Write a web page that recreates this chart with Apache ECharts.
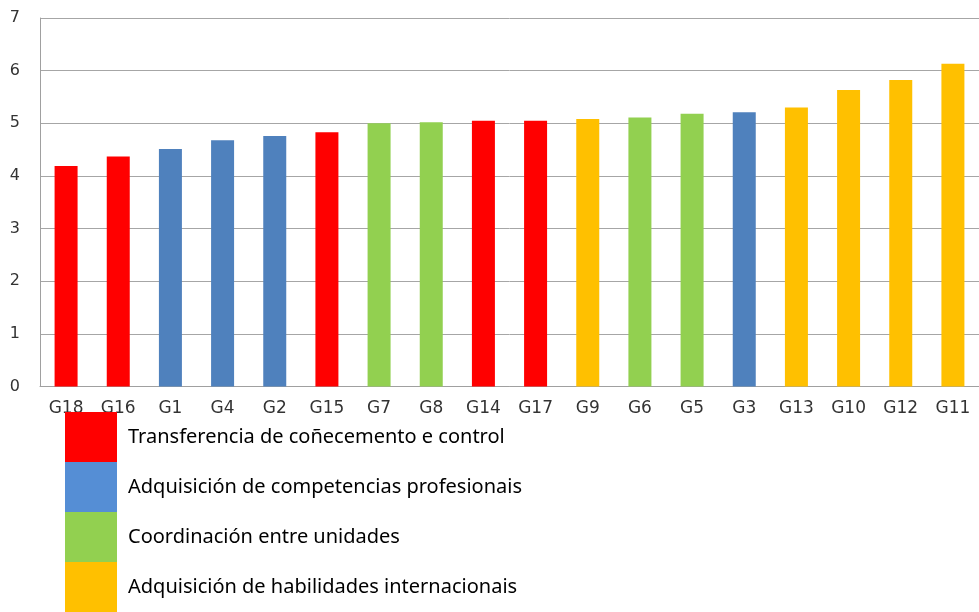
<!DOCTYPE html>
<html>
<head>
<meta charset="utf-8">
<script src="https://cdn.jsdelivr.net/npm/echarts@6/dist/echarts.min.js"></script>
<style>html,body{margin:0;padding:0;background:#fff;}#c{width:979px;height:612px;}</style>
</head>
<body>
<div id="c"></div>
<script>
var categories = ['G18','G16','G1','G4','G2','G15','G7','G8','G14','G17','G9','G6','G5','G3','G13','G10','G12','G11'];
var values = [4.19,4.37,4.51,4.68,4.76,4.83,5.00,5.02,5.05,5.05,5.08,5.11,5.18,5.21,5.30,5.63,5.82,6.13];
var groups = [0,0,1,1,1,0,2,2,0,0,3,2,2,1,3,3,3,3];
var groupNames = ['Transferencia de coñecemento e control','Adquisición de competencias profesionais','Coordinación entre unidades','Adquisición de habilidades internacionais'];
var groupColors = ['#FF0000','#4F81BD','#92D050','#FFC000'];
var legendColors = ['#FF0000','#558ED5','#92D050','#FFC000'];
var yTicks = [0,1,2,3,4,5,6,7];

var series = groupNames.map(function(name, g){
  return {
    name: name,
    type: 'bar',
    stack: 'all',
    barWidth: 23,
    itemStyle: {color: groupColors[g]},
    data: values.map(function(v, i){ return groups[i] === g ? v : null; })
  };
});

var chart = echarts.init(document.getElementById('c'));
chart.setOption({
  animation: false,
  backgroundColor: '#fff',
  grid: {left: 40, right: -8, top: 18, bottom: 612 - 386.5},
  legend: {
    orient: 'vertical',
    left: 65,
    top: 412,
    padding: 0,
    itemWidth: 52,
    itemHeight: 50,
    itemGap: 0,
    icon: 'rect',
    selectedMode: false,
    textStyle: {fontFamily: 'Noto Sans', fontSize: 20, color: '#000', padding: [0,0,0,6]},
    data: groupNames.map(function(n, g){ return {name: n, itemStyle: {color: legendColors[g]}}; })
  },
  xAxis: {
    type: 'category',
    data: categories,
    axisLine: {show: true, lineStyle: {color: '#A0A0A0', width: 1}},
    axisTick: {show: false},
    axisLabel: {fontFamily: 'DejaVu Sans', fontSize: 17, color: '#333', margin: 14, interval: 0}
  },
  yAxis: {
    type: 'value',
    min: yTicks[0],
    max: yTicks[yTicks.length - 1],
    interval: 1,
    axisLine: {show: true, lineStyle: {color: '#A0A0A0', width: 1}},
    axisTick: {show: false},
    axisLabel: {fontFamily: 'DejaVu Sans', fontSize: 16, color: '#333', margin: 20},
    splitLine: {show: true, lineStyle: {color: '#A6A6A6', width: 1}}
  },
  series: series
});
</script>
</body>
</html>
